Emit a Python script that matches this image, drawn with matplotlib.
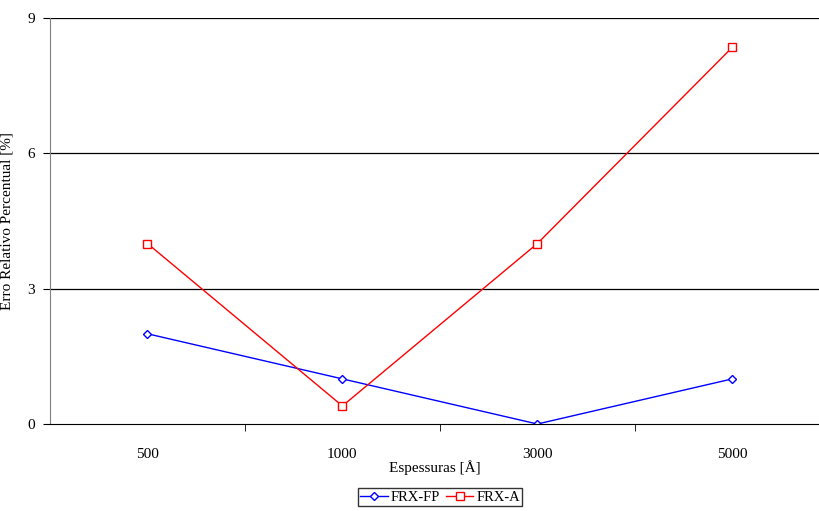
import matplotlib.pyplot as plt
import numpy as np

plt.rcParams['font.family'] = ['Liberation Serif', 'DejaVu Serif']

categorias = ['500', '1000', '3000', '5000']
frx_fp = [2.0, 1.0, 0.0, 1.0]
frx_a = [4.0, 0.4, 4.0, 8.35]

fig = plt.figure(figsize=(8.2, 5.11), dpi=100)
ax = fig.add_axes([50/820, 87/511, 770/820, 406/511])

x = np.arange(len(categorias))
ax.plot(x, frx_fp, color='#0000ff', lw=1, marker='D', ms=4.5, mfc='white', mec='#0000ff', mew=1, label='FRX-FP')
ax.plot(x, frx_a, color='#ff0000', lw=1, marker='s', ms=5.5, mfc='white', mec='#ff0000', mew=1, label='FRX-A')

ax.set_xlim(-0.5, 3.45)
ax.set_ylim(0, 9)
ax.set_yticks([0, 3, 6, 9])
ax.set_yticklabels(['0', '3', '6', '9'], fontsize=11)
ax.set_xticks(x)
ax.set_xticklabels(categorias, fontsize=11)
ax.tick_params(axis='x', length=0, pad=17)
ax.set_xticks([0.5, 1.5, 2.5], minor=True)
ax.tick_params(axis='x', which='minor', length=5, direction='out', color='black')
ax.tick_params(axis='y', length=5, direction='out', pad=6)

for v in [3, 6, 9]:
    ax.axhline(v, color='black', lw=0.9, zorder=0)

for s in ['top', 'right']:
    ax.spines[s].set_visible(False)
ax.spines['left'].set_color('#808080')
ax.spines['bottom'].set_color('black')

ax.set_xlabel('Espessuras [Å]', fontsize=11, labelpad=0)
ax.set_ylabel('Erro Relativo Percentual [%]', fontsize=11, labelpad=10)

leg = ax.legend(loc='center', bbox_to_anchor=(440/820, 14/511), bbox_transform=fig.transFigure,
                ncol=2, fontsize=10.5, frameon=True, fancybox=False, edgecolor='black',
                handlelength=1.9, columnspacing=0.4, handletextpad=0.2, borderpad=0.15,
                borderaxespad=0)
leg.get_frame().set_linewidth(1)

fig.savefig('out.png', dpi=100)
